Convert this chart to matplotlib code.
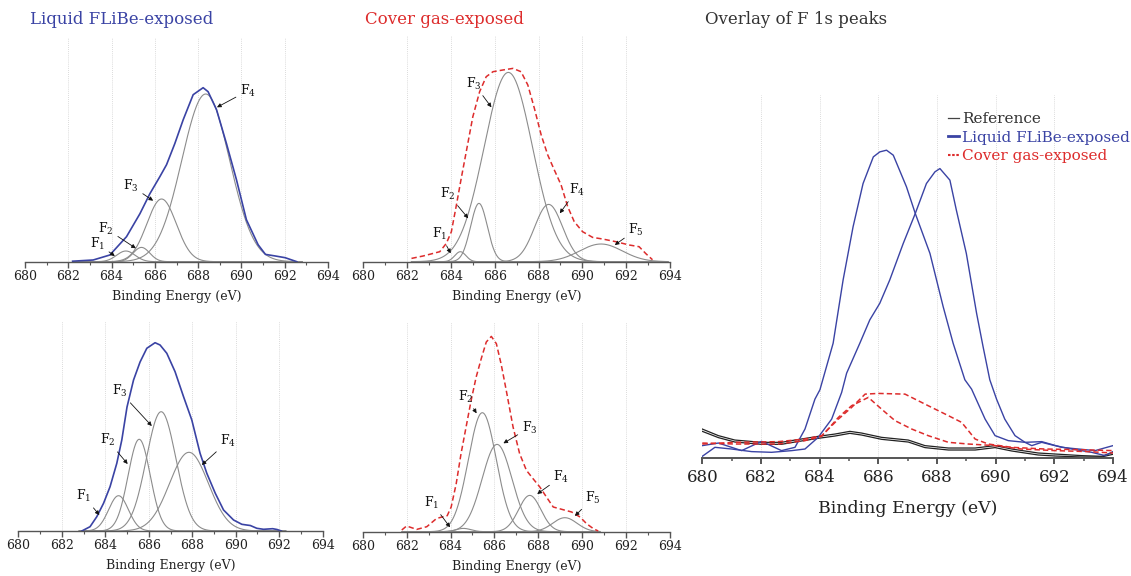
import numpy as np
import matplotlib
matplotlib.use("Agg")
import matplotlib.pyplot as plt
from matplotlib.lines import Line2D
from matplotlib.ticker import MultipleLocator

plt.rcParams["font.family"] = ["DejaVu Serif"]
plt.rcParams["mathtext.fontset"] = "dejavuserif"

BLUE = "#3a43a4"
RED = "#dd2c2c"
GRAY = "#8c8c8c"

# --- fitted F 1s components: centre (eV), height (a.u.), FWHM (eV) ---
tl_cen = [684.66, 685.38, 686.31, 688.35]
tl_hgt = [10.7, 14.3, 62.7, 167.7]
tl_fwhm = [1.0, 0.9, 1.6, 2.6]

tm_cen = [684.43, 685.28, 686.62, 688.46, 690.85]
tm_hgt = [10.0, 58.3, 189.3, 57.3, 17.7]
tm_fwhm = [0.6, 0.9, 2.6, 1.5, 2.3]

bl_cen = [684.61, 685.56, 686.57, 687.85]
bl_hgt = [35.3, 91.7, 119.3, 78.7]
bl_fwhm = [1.07, 1.2, 1.6, 2.1]

bm_cen = [684.59, 685.45, 686.12, 687.61, 689.21]
bm_hgt = [3.3, 119.0, 87.3, 36.3, 14.0]
bm_fwhm = [0.8, 1.5, 1.6, 1.2, 1.3]

# --- measured envelopes ---
tl_x = [682.2, 683.15, 683.92, 684.69, 685.31, 685.77, 686.23, 686.54, 686.92, 687.31,
        687.77, 688.23, 688.46, 688.85, 689.31, 689.77, 690.23, 690.77, 691.11, 691.57,
        692.02, 692.33, 692.56]
tl_y = [0.5, 1.7, 6.7, 25, 48, 68, 85, 97, 118, 142,
        167, 174, 170, 152, 118, 82, 42, 17, 7.3, 5.7,
        4, 1.7, 0]

tm_x = [682.2, 682.73, 683.49, 683.79, 684.02, 684.25, 684.47, 684.7, 685.0, 685.31,
        685.61, 685.92, 686.37, 686.83, 687.2, 687.51, 687.81, 688.12, 688.42, 688.72,
        689.03, 689.33, 689.63, 690.01, 690.47, 690.92, 691.53, 692.14, 692.59, 692.9,
        693.2]
tm_y = [3.3, 5.7, 10, 18.3, 30, 56.7, 83.3, 110, 145, 170,
        185, 190, 191.7, 193.3, 190, 176.7, 153.3, 126.7, 106.7, 91.7,
        76.7, 55, 40, 30, 24.3, 22.7, 20, 16.7, 15, 8,
        2]

bl_x = [682.92, 683.3, 683.61, 683.92, 684.22, 684.53, 684.76, 685.0, 685.3, 685.6,
        685.91, 686.29, 686.52, 686.83, 687.21, 687.6, 687.98, 688.36, 688.67, 689.06,
        689.44, 689.9, 690.28, 690.5, 690.67, 690.97, 691.28, 691.7, 691.9, 692.1]
bl_y = [0, 4.3, 14.3, 27.7, 44.3, 67.7, 91, 124, 151, 169,
        182.7, 188.3, 186, 177.7, 159.3, 134.3, 111, 77.7, 57.7, 37.7,
        21, 11, 6.7, 6, 5.5, 2.7, 1.7, 2.3, 1.5, 0]

bm_x = [681.78, 682.0, 682.46, 682.92, 683.37, 683.85, 684.03, 684.26, 684.48, 684.71,
        684.94, 685.17, 685.4, 685.63, 685.86, 686.09, 686.31, 686.54, 686.85, 687.15,
        687.46, 687.76, 688.07, 688.37, 688.68, 689.13, 689.52, 689.9, 690.2, 690.51,
        690.73]
bm_y = [1.7, 5.7, 2.3, 5, 13.3, 16, 24.7, 48, 78, 104.7,
        131.3, 154.7, 173, 189.7, 195.3, 188, 167.3, 141.3, 104.7, 78,
        61.3, 53, 44.7, 34.7, 24.7, 22, 19.7, 14.7, 8, 3,
        0.7]

# --- overlay traces ---
ref_x = [680.0, 680.55, 681.11, 682.02, 682.7, 683.16, 683.95, 684.52, 685.03, 685.43,
         686.11, 687.02, 687.59, 688.39, 689.3, 689.98, 690.55, 691.45, 692.02, 692.93,
         693.61, 694.0]
ref1_y = [28.3, 21.7, 17.3, 15, 15, 17.3, 21, 23.3, 26, 24.3,
          20, 17.3, 11.7, 9.3, 9.3, 11.7, 8.3, 4.3, 3.3, 1.7,
          1, 5]
ref2_y = [26, 19.7, 15.3, 13, 13, 15.3, 19, 21.3, 24, 22.3,
          18, 15.3, 9.7, 7.3, 7.3, 9.7, 6.3, 2.3, 1.3, 0.3,
          0.3, 3]

liq1_x = [680.0, 680.43, 681.0, 681.68, 682.36, 683.05, 683.5, 683.95, 684.41, 684.75,
          684.92, 685.37, 685.71, 686.05, 686.39, 686.85, 687.26, 687.64, 687.93, 688.1,
          688.44, 688.66, 689.0, 689.35, 689.57, 689.8, 690.03, 690.31, 690.66, 691.0,
          691.23, 691.57, 692.02, 692.59, 693.27, 693.73, 694.0]
liq1_y = [1, 10, 8.3, 5.7, 5, 6.7, 8.3, 20, 38.3, 65,
          84.3, 114.3, 137.7, 154.3, 177.7, 214.3, 244.3, 274.3, 286, 289.3,
          277.7, 247.7, 204.3, 144.3, 111, 77.7, 58.3, 38.3, 21.7, 15,
          11.7, 15, 11.7, 8.3, 5, 1.7, 5.7]

liq2_x = [680.0, 680.55, 681.34, 682.02, 682.7, 683.16, 683.5, 683.84, 684.01, 684.46,
          684.8, 685.14, 685.48, 685.83, 686.05, 686.28, 686.51, 686.96, 687.26, 687.76,
          688.21, 688.55, 688.95, 689.18, 689.64, 689.98, 690.43, 691.0, 691.57, 692.25,
          692.82, 693.39, 694.0]
liq2_y = [11.7, 14.3, 6.7, 16, 6.7, 10, 28.3, 58.3, 67.7, 114.3,
          177.7, 231, 274.3, 301, 306, 307.7, 302.7, 271, 244.3, 204.3,
          151, 114.3, 77.7, 68.3, 38.3, 21.7, 16.7, 15, 15.7, 10,
          8.3, 6.7, 11.7]

gas1_x = [680.0, 681.11, 682.59, 683.5, 684.07, 684.64, 685.09, 685.55, 686.0, 686.91,
          687.7, 688.39, 688.84, 689.3, 689.75, 690.55, 691.68, 692.82, 694.0]
gas1_y = [13.3, 15, 15.7, 18.3, 21.7, 38.3, 50, 63.3, 64, 63.3,
          51.7, 41.7, 35, 18.3, 13.3, 10, 8.3, 7.7, 6.7]

gas2_x = [680.0, 681.11, 682.59, 683.5, 684.07, 684.64, 685.09, 685.66, 686.11, 686.57,
          687.14, 687.7, 688.39, 689.07, 689.98, 690.89, 692.02, 693.16, 694.0]
gas2_y = [14.3, 13.3, 13.3, 16.7, 21, 40, 51.7, 60, 48.3, 36.7,
          28.3, 21.7, 15, 13.3, 11.7, 8.3, 6.7, 5.7, 4.3]

W, H = 1131, 576


def box(left, right, bottom, top):
    return [left / W, 1 - bottom / H, (right - left) / W, (bottom - top) / H]


def gauss(x, c, h, fwhm):
    s = fwhm / 2.3548
    return h * np.exp(-0.5 * ((x - c) / s) ** 2)


def style_axis(ax, ymax, tick_size, label_size, spine_lw=1.0, labelpad=5, tickpad=2):
    ax.set_xlim(680, 694)
    ax.set_ylim(0, ymax)
    for s in ["left", "right", "top"]:
        ax.spines[s].set_visible(False)
    ax.spines["bottom"].set_color("#555555")
    ax.spines["bottom"].set_linewidth(spine_lw)
    ax.set_yticks([])
    ax.xaxis.set_major_locator(MultipleLocator(2))
    ax.xaxis.set_minor_locator(MultipleLocator(1))
    ax.tick_params(axis="x", which="major", direction="out", length=4, width=spine_lw,
                   color="#555555", labelsize=tick_size, labelcolor="#222222", pad=tickpad)
    ax.tick_params(axis="x", which="minor", direction="out", length=2.5, width=spine_lw * 0.8,
                   color="#555555")
    ax.set_xlabel("Binding Energy (eV)", fontsize=label_size, color="#222222", labelpad=labelpad)
    for g in range(682, 693, 2):
        ax.axvline(g, color="#cfcfcf", lw=0.6, ls=(0, (1, 1.5)), zorder=0)
    ax.patch.set_alpha(0)


def components(ax, cen, hgt, fwhm, lo, hi):
    x = np.linspace(lo, hi, 500)
    for c, h, w in zip(cen, hgt, fwhm):
        ax.plot(x, gauss(x, c, h, w), color=GRAY, lw=0.8)


def tag(ax, n, text_xy, tip_xy):
    ax.annotate("F$_{%d}$" % n, xy=tip_xy, xytext=text_xy, fontsize=9, color="#111111",
                ha="center", va="center",
                arrowprops=dict(arrowstyle="-|>", color="#111111", lw=0.6,
                                mutation_scale=6, shrinkA=1, shrinkB=0))


fig = plt.figure(figsize=(W / 100, H / 100), dpi=100)

# top-left: liquid FLiBe-exposed, sample 1
ax = fig.add_axes(box(25, 328, 261.7, 36.7))
style_axis(ax, 225, 9, 9)
components(ax, tl_cen, tl_hgt, tl_fwhm, 682.2, 692.8)
ax.plot(tl_x, tl_y, color=BLUE, lw=1.2)
tag(ax, 4, (690.3, 171), (688.87, 154.4))
tag(ax, 3, (684.9, 76), (685.92, 61))
tag(ax, 2, (683.75, 33), (685.12, 13.4))
tag(ax, 1, (683.35, 18), (684.15, 5.7))

# top-middle: cover gas-exposed, sample 1
ax = fig.add_axes(box(363.3, 670, 261.7, 35))
style_axis(ax, 226.7, 9, 9)
components(ax, tm_cen, tm_hgt, tm_fwhm, 682.2, 693.9)
ax.plot(tm_x, tm_y, color=RED, lw=1.1, ls=(0, (3.5, 2)))
tag(ax, 3, (685.05, 178), (685.85, 154.4))
tag(ax, 2, (683.85, 68), (684.79, 43.4))
tag(ax, 1, (683.5, 28), (683.99, 8.4))
tag(ax, 4, (689.75, 72), (688.97, 48.4))
tag(ax, 5, (692.45, 32), (691.48, 16.7))

# bottom-left: liquid FLiBe-exposed, sample 2
ax = fig.add_axes(box(18.3, 322.7, 531, 320.7))
style_axis(ax, 210.3, 9, 9)
components(ax, bl_cen, bl_hgt, bl_fwhm, 682.8, 692.3)
ax.plot(bl_x, bl_y, color=BLUE, lw=1.2)
tag(ax, 3, (684.65, 140), (686.14, 105))
tag(ax, 2, (684.1, 91), (685.03, 67))
tag(ax, 1, (683.0, 35), (683.73, 16))
tag(ax, 4, (689.65, 90), (688.44, 66))

# bottom-middle: cover gas-exposed, sample 2
ax = fig.add_axes(box(362.7, 670, 531.7, 321.7))
style_axis(ax, 210, 9, 9)
components(ax, bm_cen, bm_hgt, bm_fwhm, 681.8, 690.8)
ax.plot(bm_x, bm_y, color=RED, lw=1.1, ls=(0, (3.5, 2)))
tag(ax, 2, (684.7, 135), (685.19, 118.4))
tag(ax, 3, (687.6, 104), (686.41, 88.4))
tag(ax, 4, (689.05, 55), (687.95, 37.7))
tag(ax, 5, (690.5, 34), (689.67, 15.7))
tag(ax, 1, (683.15, 29), (683.98, 4.4))

# right: overlay of all F 1s envelopes
ax = fig.add_axes(box(702.3, 1113, 458.3, 95))
style_axis(ax, 363, 12, 12.5, spine_lw=1.4, labelpad=10, tickpad=4)
ax.set_ylim(-1, 363)
ax.plot(ref_x, ref1_y, color="#222222", lw=0.9)
ax.plot(ref_x, ref2_y, color="#222222", lw=0.9)
ax.plot(liq1_x, liq1_y, color=BLUE, lw=1.0)
ax.plot(liq2_x, liq2_y, color=BLUE, lw=1.0)
ax.plot(gas1_x, gas1_y, color=RED, lw=1.1, ls=(0, (3.5, 2)))
ax.plot(gas2_x, gas2_y, color=RED, lw=1.1, ls=(0, (3.5, 2)))

handles = [Line2D([], [], color="#444444", lw=0.9),
           Line2D([], [], color=BLUE, lw=2.0),
           Line2D([], [], color=RED, lw=1.5, ls=(0, (1.2, 0.8)))]
ax.legend(handles, ["Reference", "Liquid FLiBe-exposed", "Cover gas-exposed"],
          loc="upper left", bbox_to_anchor=(948 / W, 1 - 112 / H), bbox_transform=fig.transFigure,
          frameon=False, fontsize=11, handlelength=0.7, handletextpad=0.2,
          labelspacing=0.3, borderpad=0, borderaxespad=0,
          labelcolor=["#333333", BLUE, RED])

fig.text(30 / W, 1 - 20 / H, "Liquid FLiBe-exposed", color=BLUE, fontsize=12, va="center")
fig.text(365 / W, 1 - 20 / H, "Cover gas-exposed", color=RED, fontsize=12, va="center")
fig.text(705 / W, 1 - 20 / H, "Overlay of F 1s peaks", color="#333333", fontsize=12, va="center")

fig.savefig("out.png", dpi=100)
